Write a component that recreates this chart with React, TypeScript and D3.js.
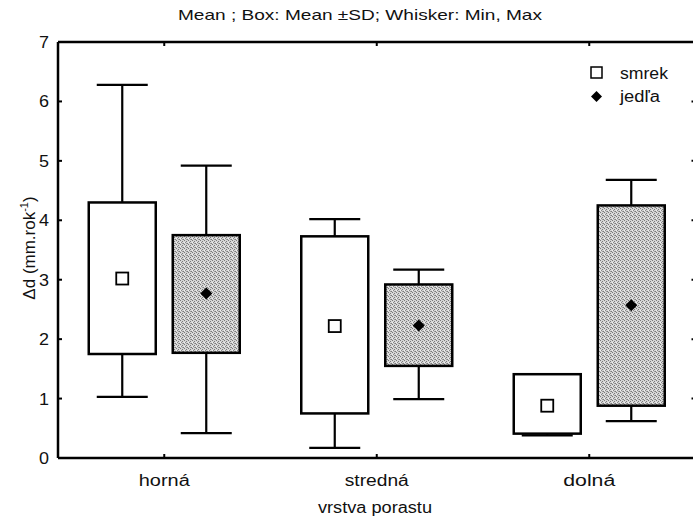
import React from "react";
import * as d3 from "d3";

const categories = ["horná", "stredná", "dolná"];
const seriesNames = ["smrek", "jedľa"];
// per series, per category
const smrekMean = [3.02, 2.22, 0.88];
const smrekBoxLow = [1.75, 0.75, 0.41];
const smrekBoxHigh = [4.3, 3.73, 1.41];
const smrekMin = [1.03, 0.17, 0.38];
const smrekMax = [6.28, 4.02, 1.41];

const jedlaMean = [2.77, 2.23, 2.57];
const jedlaBoxLow = [1.77, 1.55, 0.88];
const jedlaBoxHigh = [3.75, 2.92, 4.25];
const jedlaMin = [0.42, 0.99, 0.62];
const jedlaMax = [4.92, 3.17, 4.68];

const yTicks = [0, 1, 2, 3, 4, 5, 6, 7];

const W = 693;
const H = 517;
const left = 58;
const right = 695.5;
const top = 42;
const bottom = 458;

const catWidths: Record<string, number> = { "horná": 51, "stredná": 64, "dolná": 52 };

export default function App() {
  const x = d3.scaleBand().domain(categories).range([left, right]).padding(0);
  const y = d3.scaleLinear().domain([0, 7]).range([bottom, top]);
  const off = d3.scalePoint().domain(seriesNames).range([-42, 42]);
  const boxW = 67;
  const capW = 51;
  const font = "'Liberation Sans', Arial, sans-serif";

  const series = [
    { name: "smrek", mean: smrekMean, lo: smrekBoxLow, hi: smrekBoxHigh, mn: smrekMin, mx: smrekMax, fill: "#fff" },
    { name: "jedľa", mean: jedlaMean, lo: jedlaBoxLow, hi: jedlaBoxHigh, mn: jedlaMin, mx: jedlaMax, fill: "url(#stip)" },
  ];

  const cx = (c: string) => (x(c) as number) + x.bandwidth() / 2;

  return (
    <svg width={W} height={H} style={{ position: "absolute", left: 0, top: 0, background: "#fff" }} fontFamily={font}>
      <defs>
        <pattern id="stip" width="4" height="4" patternUnits="userSpaceOnUse">
          <rect width="4" height="4" fill="#d6d6d6" />
          <rect x="0" y="0" width="1" height="1" fill="#7a7a7a" />
          <rect x="2" y="1" width="1" height="1" fill="#7a7a7a" />
          <rect x="1" y="2" width="1" height="1" fill="#888" />
          <rect x="3" y="3" width="1" height="1" fill="#7a7a7a" />
          <rect x="2" y="3" width="1" height="1" fill="#a0a0a0" />
          <rect x="0" y="2" width="1" height="1" fill="#f0f0f0" />
        </pattern>
      </defs>
      <text x={360} y={20} textAnchor="middle" fontSize={15} fill="#111" textLength={364} lengthAdjust="spacingAndGlyphs">
        Mean ; Box: Mean ±SD; Whisker: Min, Max
      </text>

      {/* boxes */}
      {series.map((s) =>
        categories.map((c, i) => {
          const xc = cx(c) + (off(s.name) as number);
          return (
            <g key={s.name + c}>
              <line x1={xc} x2={xc} y1={y(s.hi[i])} y2={y(s.mx[i])} stroke="#000" strokeWidth={2.2} />
              <line x1={xc} x2={xc} y1={y(s.lo[i])} y2={y(s.mn[i])} stroke="#000" strokeWidth={2.2} />
              <line x1={xc - capW / 2} x2={xc + capW / 2} y1={y(s.mx[i])} y2={y(s.mx[i])} stroke="#000" strokeWidth={2.2} />
              <line x1={xc - capW / 2} x2={xc + capW / 2} y1={y(s.mn[i])} y2={y(s.mn[i])} stroke="#000" strokeWidth={2.2} />
              <rect
                x={xc - boxW / 2}
                y={y(s.hi[i])}
                width={boxW}
                height={y(s.lo[i]) - y(s.hi[i])}
                fill={s.fill}
                stroke="#000"
                strokeWidth={2.5}
              />
              {s.name === "smrek" ? (
                <rect x={xc - 6} y={y(s.mean[i]) - 6} width={12} height={12} fill="#fff" stroke="#000" strokeWidth={1.8} />
              ) : (
                <path d={`M${xc},${y(s.mean[i]) - 6}L${xc + 6},${y(s.mean[i])}L${xc},${y(s.mean[i]) + 6}L${xc - 6},${y(s.mean[i])}Z`} fill="#000" />
              )}
            </g>
          );
        })
      )}

      {/* axes frame */}
      <line x1={left} x2={right} y1={bottom} y2={bottom} stroke="#000" strokeWidth={2.5} />
      <line x1={left} x2={right} y1={top} y2={top} stroke="#000" strokeWidth={2.5} />
      <line x1={left} x2={left} y1={top} y2={bottom} stroke="#000" strokeWidth={2.5} />
      <line x1={right} x2={right} y1={top} y2={bottom} stroke="#000" strokeWidth={2.5} />

      {yTicks.map((t) => (
        <g key={t}>
          <line x1={left} x2={left + 4} y1={y(t)} y2={y(t)} stroke="#000" strokeWidth={2} />
          <line x1={right - 4} x2={right} y1={y(t)} y2={y(t)} stroke="#000" strokeWidth={2} />
          <text x={49} y={y(t) + 6} textAnchor="end" fontSize={16} fill="#111" textLength={10} lengthAdjust="spacingAndGlyphs">
            {t}
          </text>
        </g>
      ))}
      {categories.map((c) => (
        <g key={c}>
          <line x1={cx(c)} x2={cx(c)} y1={bottom} y2={bottom - 4} stroke="#000" strokeWidth={2} />
          <line x1={cx(c)} x2={cx(c)} y1={top} y2={top + 4} stroke="#000" strokeWidth={2} />
          <text x={cx(c)} y={486} textAnchor="middle" fontSize={16} fill="#111" textLength={catWidths[c]} lengthAdjust="spacingAndGlyphs">
            {c}
          </text>
        </g>
      ))}

      <text x={375} y={513} textAnchor="middle" fontSize={16} fill="#111" textLength={114} lengthAdjust="spacingAndGlyphs">
        vrstva porastu
      </text>
      <text transform={`translate(35,248) rotate(-90)`} textAnchor="middle" fontSize={17} fill="#111">
        Δd (mm.rok<tspan dy={-7} fontSize={11}>-1</tspan><tspan dy={7}>)</tspan>
      </text>

      {/* legend */}
      <rect x={591} y={67} width={11} height={11} fill="#fff" stroke="#000" strokeWidth={1.5} />
      <text x={620} y={79} fontSize={16} fill="#111" textLength={48} lengthAdjust="spacingAndGlyphs">smrek</text>
      <path d="M596.5,91L602,96.5L596.5,102L591,96.5Z" fill="#000" />
      <text x={620} y={102} fontSize={16} fill="#111" textLength={40} lengthAdjust="spacingAndGlyphs">jedľa</text>
    </svg>
  );
}
